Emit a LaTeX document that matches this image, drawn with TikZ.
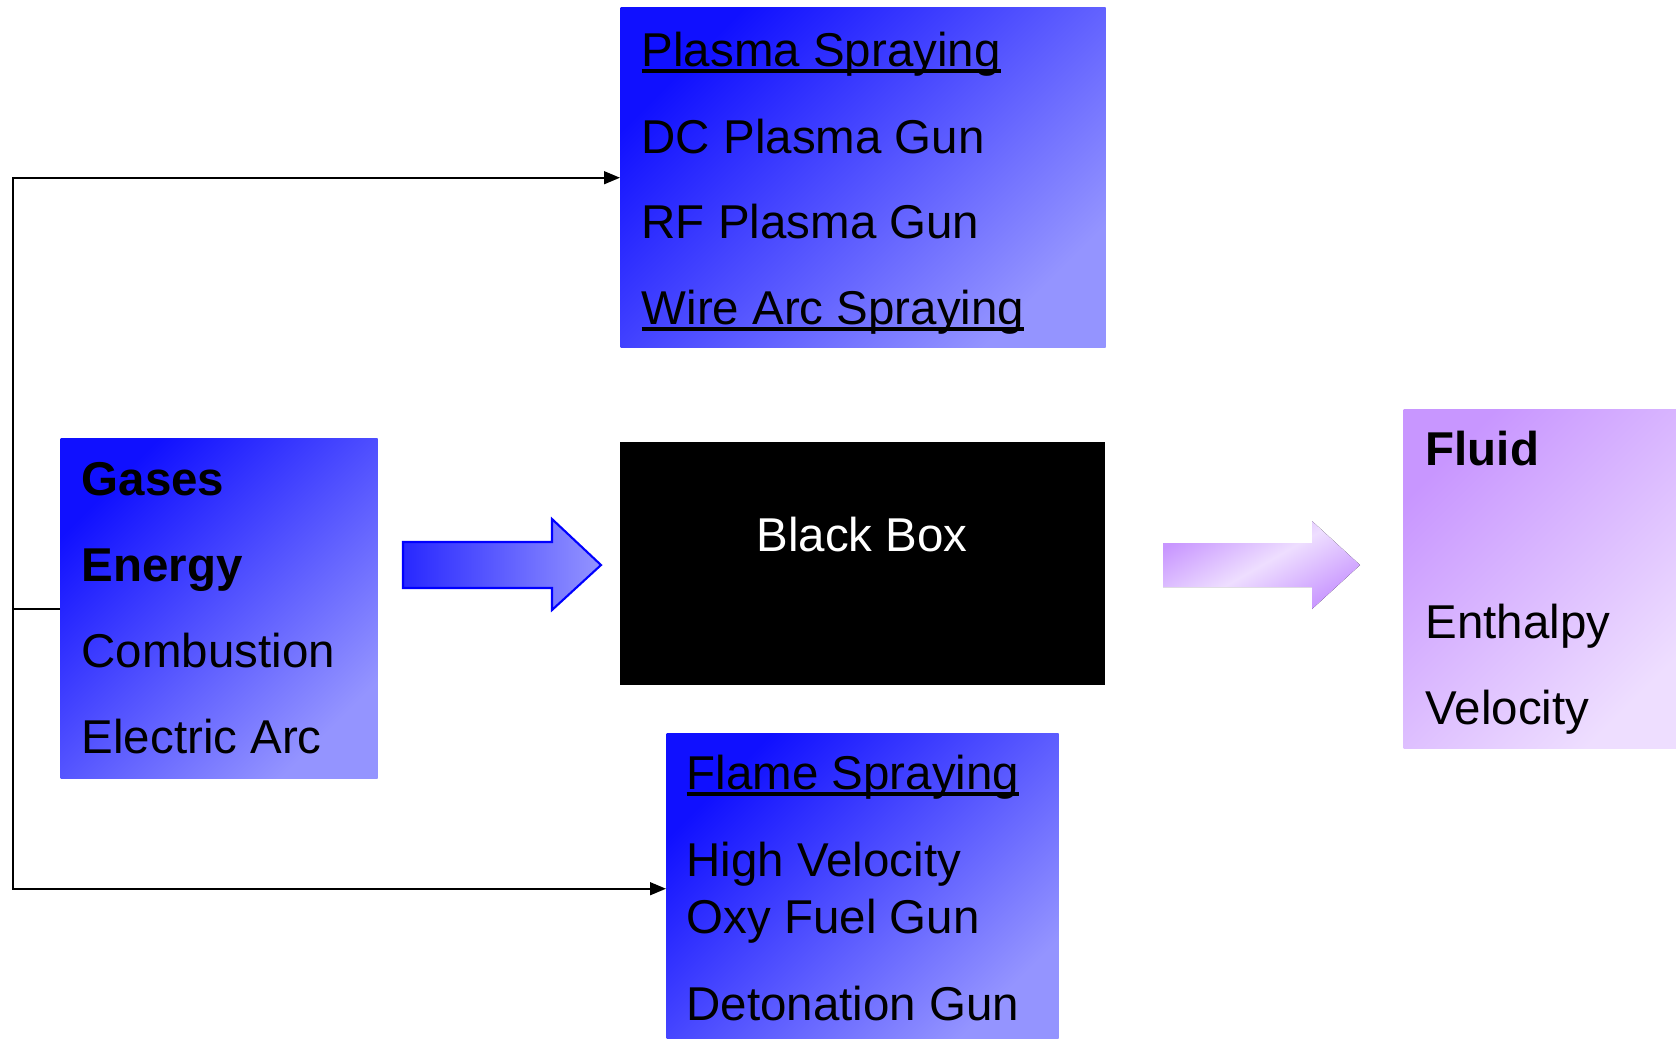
\documentclass[tikz,border=0pt]{standalone}
\usepackage{fontspec}
\setmainfont{Liberation Sans}
\usetikzlibrary{arrows.meta}
\newcommand\myul[1]{\setbox0\hbox{#1}\rlap{\rule[-1.9pt]{\wd0}{0.95pt}}\box0}
\definecolor{bdark}{RGB}{16,16,255}
\definecolor{blight}{RGB}{148,148,255}
\definecolor{pdark}{RGB}{200,150,255}
\definecolor{plight}{RGB}{238,222,255}
\begin{document}
\begin{tikzpicture}[x=0.01cm,y=-0.01cm,
  bluebox/.style={rectangle,draw=none,anchor=north west,inner sep=0,shading=axis,top color=bdark,bottom color=blight,shading angle=45},
  txt/.style={anchor=base west,inner sep=0,font=\fontsize{13.5}{16}\selectfont},
  conn/.style={line width=0.6pt,black},
  tip/.style={-{Triangle[length=4.5pt,width=3.6pt]}}]
\useasboundingbox (0,0) rectangle (1676,1038);
% boxes
\node[bluebox,minimum width=485*0.01cm,minimum height=340*0.01cm] (plasma) at (620,7) {};
\node[bluebox,minimum width=317*0.01cm,minimum height=340*0.01cm] (gases) at (60,438) {};
\node[bluebox,minimum width=392*0.01cm,minimum height=310*0.01cm] (flame) at (666,733) {};
\node[rectangle,fill=black,anchor=north west,inner sep=0,minimum width=485*0.01cm,minimum height=243*0.01cm] (black) at (619,441) {};
\node[rectangle,anchor=north west,inner sep=0,shading=axis,top color=pdark,bottom color=plight,shading angle=45,minimum width=273*0.01cm,minimum height=339*0.01cm] (fluid) at (1403,409) {};
% arrows (shapes)
\draw[draw=blue,line width=0.6pt,left color=bdark!90,right color=blight]
  (403,542) -- (552,542) -- (552,519) -- (601,565) -- (552,610) -- (552,588) -- (403,588) -- cycle;
\fill[shading=axis,top color=pdark,bottom color=pdark,middle color=plight,shading angle=30]
  (1163,543) -- (1312,543) -- (1312,521) -- (1360,565) -- (1312,609) -- (1312,587) -- (1163,587) -- cycle;
% texts
\node[txt] (t1) at (641,66) {\myul{Plasma Spraying}};
\node[txt] (t2) at (641,153) {DC Plasma Gun};
\node[txt] (t3) at (641,238) {RF Plasma Gun};
\node[txt] (t4) at (641,324) {\myul{Wire Arc Spraying}};
\node[txt] (g1) at (81,495) {\bfseries Gases};
\node[txt] (g2) at (81,581) {\bfseries Energy};
\node[txt] (g3) at (81,667) {Combustion};
\node[txt] (g4) at (81,753) {Electric Arc};
\node[txt,anchor=base,text=white] (bb) at (862,551) {Black Box};
\node[txt] (f1) at (686,789) {\myul{Flame Spraying}};
\node[txt] (f2) at (686,876) {High Velocity};
\node[txt] (f3) at (686,933) {Oxy Fuel Gun};
\node[txt] (f4) at (686,1020) {Detonation Gun};
\node[txt] (u1) at (1425,465) {\bfseries Fluid};
\node[txt] (u2) at (1425,638) {Enthalpy};
\node[txt] (u3) at (1425,724) {Velocity};
% connectors
\path (gases.west) ++(-47,0) coordinate (j);
\draw[conn] (gases.west) -- (j);
\draw[conn,tip] (j) |- (plasma.west);
\draw[conn,tip] (j) |- (flame.west);
\end{tikzpicture}
\end{document}
